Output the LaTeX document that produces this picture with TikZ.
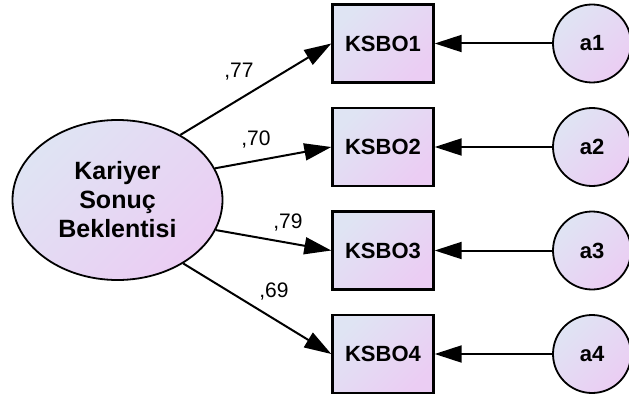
\documentclass[tikz,border=0pt]{standalone}
\usepackage{fontspec}
\setmainfont{Liberation Sans}
\usepackage{tikz}
\usetikzlibrary{arrows.meta,%
                shapes,positioning}
\definecolor{amoslo}{RGB}{223,228,243}
\definecolor{amoshi}{RGB}{235,205,243}
\tikzset{
  grad/.style={top color=amoslo, bottom color=amoshi, shading angle=45},
  latent/.style={ellipse, draw, grad, line width=1.8pt, minimum width=210pt,
    minimum height=160pt, inner sep=0pt, align=center,
    font=\fontsize{25}{29}\selectfont\bfseries},
  observed/.style={rectangle, draw, grad, line width=2.4pt, minimum width=101pt,
    minimum height=78pt, font=\fontsize{22}{24}\selectfont\bfseries},
  uerror/.style={circle, draw, grad, line width=1.8pt, minimum size=78pt,
    inner sep=0pt, font=\fontsize{22}{24}\selectfont\bfseries},
  reg/.style={line width=2pt, -{Triangle[length=27pt,width=17pt]}},
  weight/.style={font=\fontsize{21}{23}\selectfont}
}
\begin{document}
\begin{tikzpicture}[x=1pt,y=-1pt]
\useasboundingbox (0,0) rectangle (629,401);
%latent variable
\node[latent] (ksb) at (117.5,200) {Kariyer\\Sonuç\\Beklentisi};
%indicators
\node[observed] (ksbo1) at (383,43.5) {KSBO1};
\node[observed] (ksbo2) at (383,147) {KSBO2};
\node[observed] (ksbo3) at (383,250.5) {KSBO3};
\node[observed] (ksbo4) at (383,354) {KSBO4};
%errors
\node[uerror] (a1) at (592,43.5) {a1};
\node[uerror] (a2) at (592,147) {a2};
\node[uerror] (a3) at (592,250.5) {a3};
\node[uerror] (a4) at (592,354) {a4};
%loadings
\draw[reg] (ksb.46) -- (ksbo1.west);
\draw[reg] (ksb.18) -- (ksbo2.west);
\draw[reg] (ksb.-17) -- (ksbo3.west);
\draw[reg] (ksb.-44) -- (ksbo4.west);
\node[weight] (w1) at (239,72) {,77};
\node[weight] (w2) at (256,140) {,70};
\node[weight] (w3) at (288,223) {,79};
\node[weight] (w4) at (274,292) {,69};
%error paths
\draw[reg] (a1) -- (ksbo1);
\draw[reg] (a2) -- (ksbo2);
\draw[reg] (a3) -- (ksbo3);
\draw[reg] (a4) -- (ksbo4);
\end{tikzpicture}
\end{document}
